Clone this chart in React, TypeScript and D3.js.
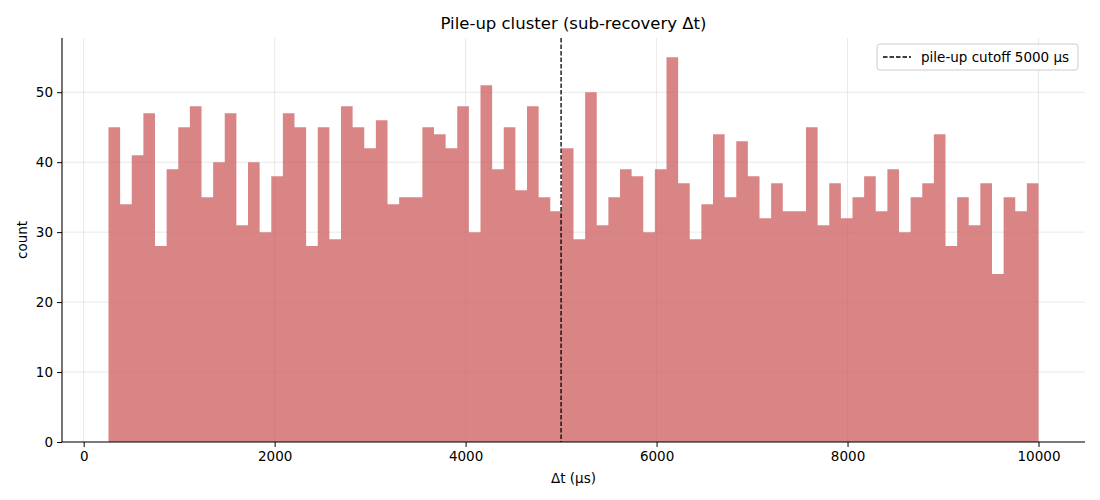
import React, { useEffect, useRef } from "react";
import * as d3 from "d3";

// histogram of sub-recovery delta t, 80 equal bins between binStart and binEnd
const binStart = 260;
const binEnd = 10000;
const counts = [
	45, 34, 41, 47, 28, 39, 45, 48, 35, 40,
	47, 31, 40, 30, 38, 47, 45, 28, 45, 29,
	48, 45, 42, 46, 34, 35, 35, 45, 44, 42,
	48, 30, 51, 39, 45, 36, 48, 35, 33, 42,
	29, 50, 31, 35, 39, 38, 30, 39, 55, 37,
	29, 34, 44, 35, 43, 38, 32, 37, 33, 33,
	45, 31, 37, 32, 35, 38, 33, 39, 30, 35,
	37, 44, 28, 35, 31, 37, 24, 35, 33, 37,
];
const cutoff = 5000;
const xTicks = [0, 2000, 4000, 6000, 8000, 10000];
const yTicks = [0, 10, 20, 30, 40, 50];

const W = 1100,
	H = 500;
const FONT = "DejaVu Sans, sans-serif";

function draw(ref: SVGSVGElement | null) {
	if (!ref) return;
	const svg = d3.select(ref);
	svg.selectAll("*").remove();

	const left = 62,
		right = 1085,
		top = 38,
		bottom = 442;
	const binW = (binEnd - binStart) / counts.length;
	const span = binEnd - binStart;
	const x = d3
		.scaleLinear()
		.domain([binStart - span * 0.05, binEnd + span * 0.05])
		.range([left, right]);
	const yMax = d3.max(counts)! * 1.05;
	const y = d3.scaleLinear().domain([0, yMax]).range([bottom, top]);

	svg.append("rect").attr("width", W).attr("height", H).attr("fill", "white");

	// title
	svg.append("text")
		.attr("x", (left + right) / 2)
		.attr("y", 29)
		.attr("text-anchor", "middle")
		.attr("font-family", FONT)
		.attr("font-size", 16.5)
		.text("Pile-up cluster (sub-recovery Δt)");

	// grid
	const grid = svg.append("g").attr("stroke", "#b0b0b0").attr("stroke-opacity", 0.35).attr("stroke-width", 0.8);
	grid.selectAll("line.gx")
		.data(xTicks)
		.join("line")
		.attr("x1", (d) => x(d))
		.attr("x2", (d) => x(d))
		.attr("y1", top)
		.attr("y2", bottom);
	grid.selectAll("line.gy")
		.data(yTicks)
		.join("line")
		.attr("x1", left)
		.attr("x2", right)
		.attr("y1", (d) => y(d))
		.attr("y2", (d) => y(d));

	// bars as one step outline so the translucent fill has no seams
	const step: [number, number][] = [[x(binStart), y(0)]];
	counts.forEach((c, i) => {
		step.push([x(binStart + i * binW), y(c)]);
		step.push([x(binStart + (i + 1) * binW), y(c)]);
	});
	step.push([x(binEnd), y(0)]);
	svg.append("path")
		.attr("d", d3.line()(step) + "Z")
		.attr("fill", "#cd5c5c")
		.attr("fill-opacity", 0.75);

	// cutoff line
	svg.append("line")
		.attr("x1", x(cutoff))
		.attr("x2", x(cutoff))
		.attr("y1", top)
		.attr("y2", bottom)
		.attr("stroke", "black")
		.attr("stroke-width", 1.3)
		.attr("stroke-dasharray", "4.5,2");

	// axes
	const xAxis = svg
		.append("g")
		.attr("transform", `translate(0,${bottom})`)
		.call(d3.axisBottom(x).tickValues(xTicks).tickSize(5).tickPadding(4).tickFormat(d3.format("d")));
	const yAxis = svg
		.append("g")
		.attr("transform", `translate(${left},0)`)
		.call(d3.axisLeft(y).tickValues(yTicks).tickSize(5).tickPadding(4));
	[xAxis, yAxis].forEach((a) => {
		a.select(".domain").attr("stroke", "black").attr("stroke-width", 1.1);
		a.selectAll("text").attr("font-family", FONT).attr("font-size", 13.5).attr("fill", "black");
		a.selectAll(".tick line").attr("stroke", "black");
	});
	xAxis.select(".domain").attr("d", `M${left},0H${right}`);
	yAxis.select(".domain").attr("d", `M0,${bottom}V${top}`);

	// axis labels
	svg.append("text")
		.attr("x", (left + right) / 2)
		.attr("y", 483)
		.attr("text-anchor", "middle")
		.attr("font-family", FONT)
		.attr("font-size", 13.5)
		.text("Δt (µs)");
	svg.append("text")
		.attr("transform", `translate(27,${(top + bottom) / 2}) rotate(-90)`)
		.attr("text-anchor", "middle")
		.attr("font-family", FONT)
		.attr("font-size", 13.5)
		.text("count");

	// legend
	const lg = svg.append("g").attr("transform", "translate(877,44)");
	lg.append("rect")
		.attr("width", 201)
		.attr("height", 26)
		.attr("rx", 3)
		.attr("fill", "white")
		.attr("fill-opacity", 0.8)
		.attr("stroke", "#cccccc");
	lg.append("line")
		.attr("x1", 6)
		.attr("x2", 34)
		.attr("y1", 13)
		.attr("y2", 13)
		.attr("stroke", "black")
		.attr("stroke-width", 1.3)
		.attr("stroke-dasharray", "4.5,2");
	lg.append("text")
		.attr("x", 44)
		.attr("y", 17.5)
		.attr("font-family", FONT)
		.attr("font-size", 13.5)
		.text(`pile-up cutoff ${cutoff} µs`);
}

export default function App() {
	const ref = useRef<SVGSVGElement>(null);
	useEffect(() => {
		draw(ref.current);
	}, []);
	return (
		<svg
			ref={ref}
			width={W}
			height={H}
			viewBox={`0 0 ${W} ${H}`}
			style={{ position: "absolute", left: 0, top: 0, display: "block" }}
		/>
	);
}
